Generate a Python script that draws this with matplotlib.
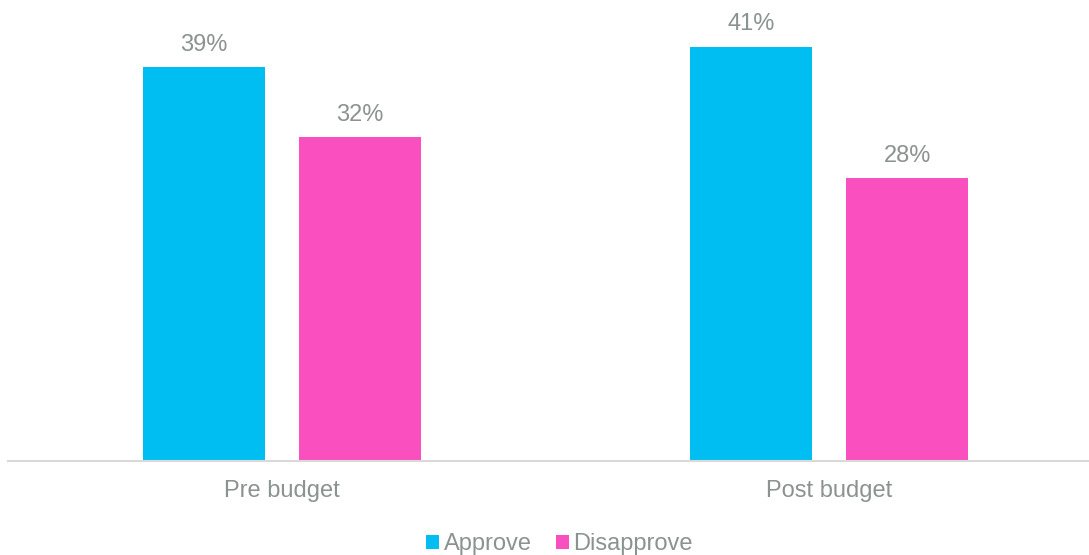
import matplotlib
matplotlib.use("Agg")
import matplotlib.pyplot as plt
from matplotlib.patches import Patch

# Approval share before and after the budget
categories = ["Pre budget", "Post budget"]
series_names = ["Approve", "Disapprove"]
approve = [39, 41]
disapprove = [32, 28]

COLORS = {"Approve": "#00BEF2", "Disapprove": "#F94FBF"}
TEXT_COLOR = "#8A9390"
FONT = "Liberation Sans"
FS = 17

plt.rcParams["font.family"] = [FONT, "DejaVu Sans"]

W, H = 1089, 555
fig = plt.figure(figsize=(W / 100, H / 100), dpi=100)
ax = fig.add_axes([8 / W, 94 / H, 1 - 8 / W, 1 - 94 / H])

bar_w = 0.223
offset = 0.1426
xs = list(range(len(categories)))

for vals, name, sign in [(approve, "Approve", -1), (disapprove, "Disapprove", 1)]:
    pos = [x + sign * offset for x in xs]
    bars = ax.bar(pos, vals, width=bar_w, color=COLORS[name], label=name)
    for b, v in zip(bars, vals):
        ax.annotate(f"{v}%", (b.get_x() + b.get_width() / 2, v),
                    xytext=(0, 8), textcoords="offset points",
                    ha="center", va="bottom", fontsize=FS, color=TEXT_COLOR)

ax.set_xlim(-0.501, 1.475)
ax.set_ylim(0, 45.6)

for s in ["top", "left", "right"]:
    ax.spines[s].set_visible(False)
ax.spines["bottom"].set_color("#D9D9D9")
ax.spines["bottom"].set_linewidth(1.5)

ax.set_yticks([])
ax.set_xticks(xs)
ax.set_xticklabels(categories, fontsize=FS, color=TEXT_COLOR)
ax.tick_params(axis="x", length=0, pad=14)

handles = [Patch(facecolor=COLORS[n], edgecolor="none") for n in series_names]
fig.legend(handles, series_names, loc="center", bbox_to_anchor=(0.514, 0.019),
           ncol=2, frameon=False, fontsize=FS, labelcolor=TEXT_COLOR,
           handlelength=0.55, handleheight=0.55, handletextpad=0.2,
           columnspacing=1.0, borderaxespad=0)

fig.savefig("out.png", dpi=100)
